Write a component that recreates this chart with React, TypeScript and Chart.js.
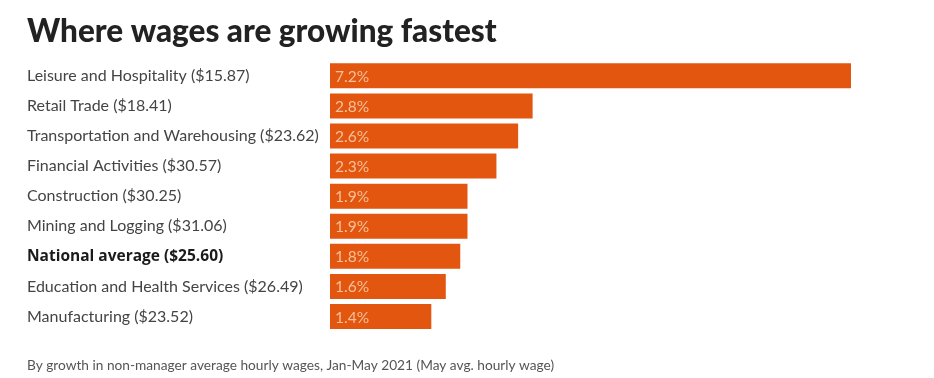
import React, { useEffect, useRef } from "react";
import { Chart, registerables } from "chart.js";

Chart.register(...registerables);

const categories = [
  "Leisure and Hospitality ($15.87)",
  "Retail Trade ($18.41)",
  "Transportation and Warehousing ($23.62)",
  "Financial Activities ($30.57)",
  "Construction ($30.25)",
  "Mining and Logging ($31.06)",
  "National average ($25.60)",
  "Education and Health Services ($26.49)",
  "Manufacturing ($23.52)",
];
const growth = [7.2, 2.8, 2.6, 2.3, 1.9, 1.9, 1.8, 1.6, 1.4];
const highlightIndex = 6;
const titleText = "Where wages are growing fastest";
const footText = "By growth in non-manager average hourly wages, Jan-May 2021 (May avg. hourly wage)";

const FONT = "Lato, 'Noto Sans', sans-serif";
const BOLD_FONT = "'Open Sans', Lato, sans-serif";

const valueLabels = {
  id: "valueLabels",
  afterDatasetsDraw(chart: any) {
    const ctx = chart.ctx;
    const meta = chart.getDatasetMeta(0);
    ctx.save();
    ctx.font = `15.5px ${FONT}`;
    ctx.fillStyle = "#f8c09a";
    ctx.textBaseline = "middle";
    ctx.textAlign = "left";
    meta.data.forEach((bar: any, i: number) => {
      const left = Math.min(bar.base, bar.x);
      ctx.fillText(growth[i].toFixed(1) + "%", left + 5, bar.y + 1);
    });
    ctx.restore();
  },
};

export default function App() {
  const ref = useRef<HTMLCanvasElement>(null);
  useEffect(() => {
    document.body.style.margin = "0";
    const chart = new Chart(ref.current!, {
      type: "bar",
      data: {
        labels: categories,
        datasets: [
          {
            data: growth,
            backgroundColor: "#e2560f",
            barPercentage: 0.83,
            categoryPercentage: 1,
          },
        ],
      },
      options: {
        indexAxis: "y",
        animation: false,
        responsive: false,
        maintainAspectRatio: false,
        layout: { padding: { left: 27, right: 83, top: 0, bottom: 0 } },
        plugins: {
          legend: { display: false },
          tooltip: { enabled: false },
          title: {
            display: true,
            text: titleText,
            align: "start",
            color: "#222",
            font: { family: FONT, size: 31.5, weight: "900", lineHeight: 1.2 },
            padding: { top: 13, bottom: 10 },
          },
          subtitle: {
            display: true,
            position: "bottom",
            text: footText,
            align: "start",
            color: "#555",
            font: { family: FONT, size: 13.7, lineHeight: 1.2 },
            padding: { top: 26, bottom: 4 },
          },
        },
        scales: {
          x: { display: false, min: 0, max: 7.2 },
          y: {
            grid: { display: false },
            border: { display: false },
            afterFit(scale: any) {
              scale.width = 303;
            },
            ticks: {
              crossAlign: "far",
              padding: 0,
              color: (c: any) => (c.index === highlightIndex ? "#1a1a1a" : "#444"),
              font: (c: any) =>
                c.index === highlightIndex
                  ? { family: BOLD_FONT, size: 15.5, weight: "bold" }
                  : { family: FONT, size: 16, weight: "normal" },
            },
          },
        },
      },
      plugins: [valueLabels],
    });
    return () => chart.destroy();
  }, []);
  return (
    <div style={{ width: 934, height: 378 }}>
      <canvas ref={ref} width={934} height={378} />
    </div>
  );
}
